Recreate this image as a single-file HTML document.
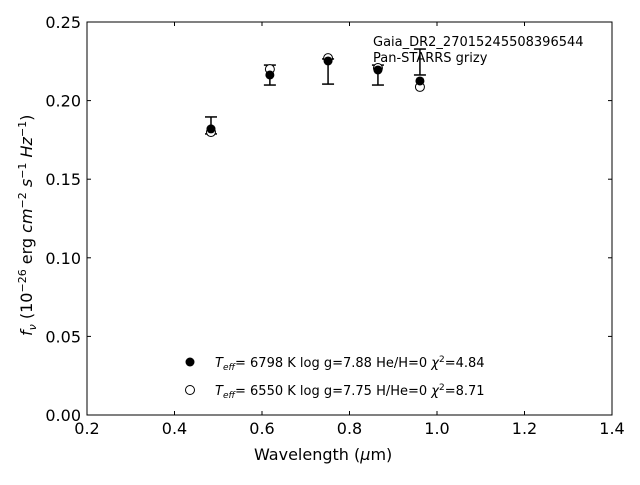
<!DOCTYPE html>
<html><head><meta charset="utf-8"><style>
body{margin:0;background:#fff;}
svg text{font-family:"DejaVu Sans","Liberation Sans",sans-serif;fill:#000;}
</style></head><body>
<svg id="chart" width="640" height="480" xmlns="http://www.w3.org/2000/svg">
<rect x="87" y="22" width="525" height="393" fill="none" stroke="#000" stroke-width="1"/>
<g id="ticks"></g>
<g id="marks"></g>
<text x="254" y="460" font-size="16">Wavelength (<tspan font-style="italic">μ</tspan>m)</text>
<text transform="translate(32,336) rotate(-90)" font-size="16"><tspan font-style="italic">f<tspan font-size="11" dy="4">ν</tspan></tspan><tspan dy="-4"> (10</tspan><tspan font-size="11" dy="-6">−26</tspan><tspan dy="6"> erg </tspan><tspan font-style="italic">cm</tspan><tspan font-size="11" dy="-6">−2</tspan><tspan dy="6"> </tspan><tspan font-style="italic">s</tspan><tspan font-size="11" dy="-6">−1</tspan><tspan dy="6"> </tspan><tspan font-style="italic">Hz</tspan><tspan font-size="11" dy="-6">−1</tspan><tspan dy="6">)</tspan></text>
<text x="373" y="46" font-size="13">Gaia_DR2_27015245508396544</text>
<text x="373" y="62" font-size="13">Pan-STARRS grizy</text>
<g>
<circle cx="190" cy="362" r="4.5" fill="#000"/>
<text x="215" y="367" font-size="13"><tspan font-style="italic">T</tspan><tspan font-size="9" dy="3" font-style="italic">eff</tspan><tspan dy="-3">=  6798 K  log g=7.88  He/H=0  </tspan><tspan font-style="italic">χ</tspan><tspan font-size="9" dy="-5">2</tspan><tspan dy="5">=4.84</tspan></text>
<circle cx="190" cy="390" r="4.5" fill="#fff" stroke="#000"/>
<text x="215" y="395" font-size="13"><tspan font-style="italic">T</tspan><tspan font-size="9" dy="3" font-style="italic">eff</tspan><tspan dy="-3">=  6550 K  log g=7.75  H/He=0  </tspan><tspan font-style="italic">χ</tspan><tspan font-size="9" dy="-5">2</tspan><tspan dy="5">=8.71</tspan></text>
</g>
</svg>
<script>
const wavelengths=[0.4834,0.618,0.751,0.865,0.961];
const observedFlux=[0.182,0.2163,0.2252,0.2195,0.2125];
const modelFlux=[0.180,0.2200,0.2270,0.2207,0.2087];
const errLow=[0.1788,0.2099,0.2105,0.2099,0.2163];
const errHigh=[0.1896,0.2226,0.2265,0.2226,0.2328];
const xTicks=[0.2,0.4,0.6,0.8,1.0,1.2,1.4];
const xTickLabels=["0.2","0.4","0.6","0.8","1.0","1.2","1.4"];
const yTicks=[0,0.05,0.10,0.15,0.20,0.25];
const yTickLabels=["0.00","0.05","0.10","0.15","0.20","0.25"];
const X=v=>87+(v-0.2)/1.2*525;
const Y=v=>415-v/0.25*393;
const NS="http://www.w3.org/2000/svg";
function mk(tag,attrs,parent){const e=document.createElementNS(NS,tag);for(const k in attrs)e.setAttribute(k,attrs[k]);parent.appendChild(e);return e;}
const T=document.getElementById('ticks'),M=document.getElementById('marks');
xTicks.forEach((v,i)=>{const x=X(v);
const a=mk('line',{x1:x,x2:x,y1:415,y2:411,stroke:'#000'},T);


const b=mk('line',{x1:x,x2:x,y1:22,y2:26,stroke:'#000'},T);


const t=mk('text',{x:x,y:434,'font-size':16,'text-anchor':'middle'},T);t.textContent=xTickLabels[i];

});
yTicks.forEach((v,i)=>{const y=Y(v);
const a=mk('line',{x1:87,x2:91,y1:y,y2:y,stroke:'#000'},T);


const b=mk('line',{x1:608,x2:612,y1:y,y2:y,stroke:'#000'},T);


const t=mk('text',{x:81,y:y+6,'font-size':16,'text-anchor':'end'},T);t.textContent=yTickLabels[i];

});
wavelengths.forEach((w,i)=>{const x=X(w);
const g=mk('g',{stroke:'#000','stroke-width':1.5},M);


mk('line',{x1:x,x2:x,y1:Y(errLow[i]),y2:Y(errHigh[i])},g);
mk('line',{x1:x-6,x2:x+6,y1:Y(errLow[i]),y2:Y(errLow[i])},g);
mk('line',{x1:x-6,x2:x+6,y1:Y(errHigh[i]),y2:Y(errHigh[i])},g);
const o=mk('circle',{cx:x,cy:Y(modelFlux[i]),r:4.5,fill:'#fff',stroke:'#000'},M);


const f=mk('circle',{cx:x,cy:Y(observedFlux[i]),r:4.5,fill:'#000'},M);

});
</script>
</body></html>
